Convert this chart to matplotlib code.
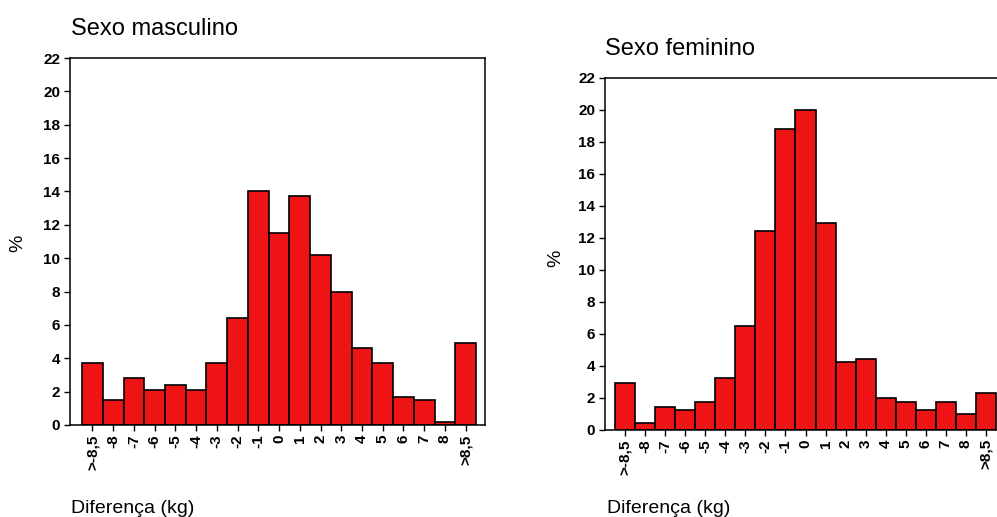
import matplotlib
matplotlib.use("Agg")
import matplotlib.pyplot as plt

plt.rcParams['font.family'] = ['Liberation Sans', 'DejaVu Sans']

# classes of the difference (kg)
categorias = ['>-8,5', '-8', '-7', '-6', '-5', '-4', '-3', '-2', '-1', '0',
              '1', '2', '3', '4', '5', '6', '7', '8', '>8,5']

# percentages
masculino = [3.7, 1.5, 2.8, 2.1, 2.4, 2.1, 3.7, 6.4, 14.0, 11.5,
             13.7, 10.2, 8.0, 4.6, 3.7, 1.7, 1.5, 0.2, 4.9]
feminino = [2.9, 0.4, 1.4, 1.2, 1.7, 3.2, 6.5, 12.4, 18.8, 20.0,
            12.9, 4.2, 4.4, 2.0, 1.7, 1.2, 1.7, 1.0, 2.3]

W, H = 997, 517
fig = plt.figure(figsize=(W / 100, H / 100), dpi=100)

vermelho = '#ee1416'


def painel(rect, valores, xlim, direita=True):
    ax = fig.add_axes(rect)
    x = list(range(len(categorias)))
    ax.bar(x, valores, width=1.0, color=vermelho, edgecolor='black', linewidth=1.2)
    ax.set_xlim(*xlim)
    ax.set_ylim(0, 22)
    ax.set_yticks(range(0, 23, 2))
    ax.set_xticks(x)
    ax.set_xticklabels(categorias, rotation=90)
    ax.tick_params(axis='both', length=4, width=1, labelsize=11, pad=3)
    for lab in ax.get_xticklabels() + ax.get_yticklabels():
        lab.set_fontweight('bold')
    for s in ax.spines.values():
        s.set_linewidth(1.1)
    if not direita:
        ax.spines['right'].set_visible(False)
    return ax


# male panel: left 70px, right 485px, top 58px, bottom 425px
ax1 = painel([70 / W, (H - 425) / H, 415 / W, 367 / H], masculino, (-1.08, 18.93))
# female panel runs off the right edge of the picture
ax2 = painel([605 / W, (H - 429.5) / H, 392 / W, 352 / H], feminino, (-1.0, 18.55), direita=False)

fig.text(71 / W, (H - 35) / H, 'Sexo masculino', fontsize=17, va='baseline', ha='left')
fig.text(605 / W, (H - 55) / H, 'Sexo feminino', fontsize=17, va='baseline', ha='left')

fig.text(71 / W, 4 / H, 'Diferença (kg)', fontsize=14, va='baseline', ha='left')
fig.text(607 / W, 4 / H, 'Diferença (kg)', fontsize=14, va='baseline', ha='left')

fig.text(18 / W, (H - 243) / H, '%', fontsize=14, rotation=90, va='center', ha='center')
fig.text(556 / W, (H - 258) / H, '%', fontsize=14, rotation=90, va='center', ha='center')

fig.savefig('out.png', dpi=100)
